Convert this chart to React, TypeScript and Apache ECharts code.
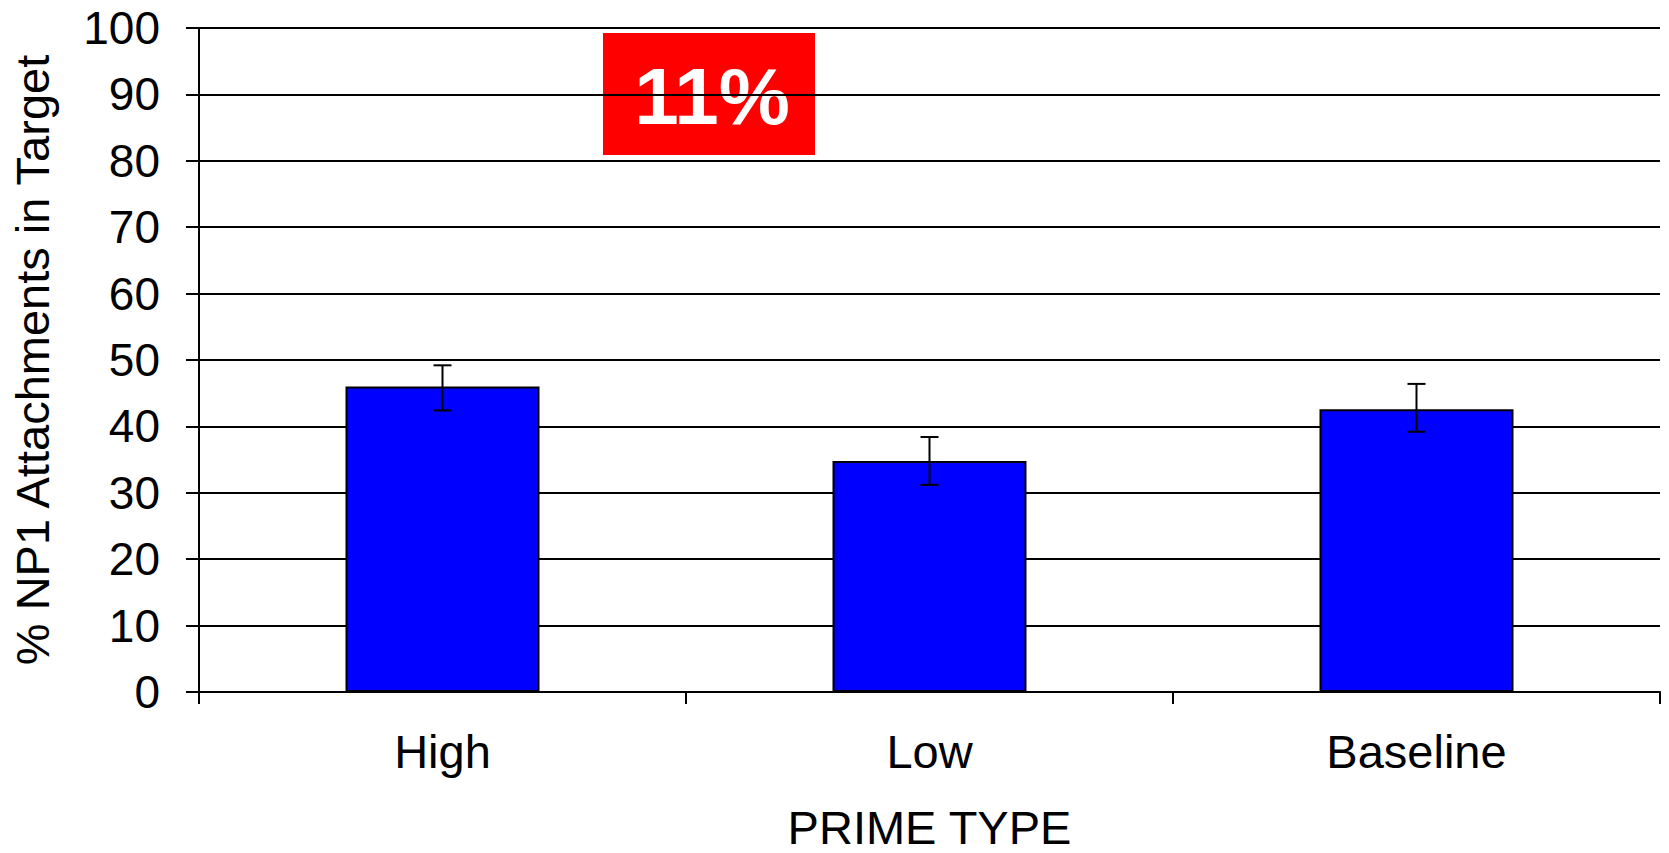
import { useEffect, useRef } from 'react';
import * as echarts from 'echarts';

// data
const categories = ['High', 'Low', 'Baseline'];
const means = [46.0, 34.8, 42.6];
const errLow = [42.4, 31.2, 39.2];
const errHigh = [49.2, 38.4, 46.4];
const yTicks = [0, 10, 20, 30, 40, 50, 60, 70, 80, 90, 100];
const badgeText = '11%';

const FONT = "'Liberation Sans', Arial, sans-serif";

export default function App() {
  const chartRef = useRef<HTMLDivElement>(null);

  useEffect(() => {
    if (!chartRef.current) return;
    const chart = echarts.init(chartRef.current, null, { renderer: 'svg' });

    const errData = categories.map((_, i) => [i, errLow[i], errHigh[i]]);

    const option = {
      animation: false,
      backgroundColor: '#fff',
      grid: {
        left: 199,
        right: 9,
        top: 28,
        bottom: 161,
        containLabel: false,
        outerBoundsMode: 'none'
      },
      xAxis: {
        type: 'category',
        data: categories,
        name: 'PRIME TYPE',
        nameLocation: 'middle',
        nameGap: 112,
        nameTextStyle: { color: '#000', fontSize: 47, fontFamily: FONT },
        axisLine: { show: true, lineStyle: { color: '#000', width: 2 } },
        axisTick: { show: true, length: 12, lineStyle: { color: '#000', width: 2 } },
        axisLabel: { color: '#000', fontSize: 47, fontFamily: FONT, margin: 36 },
        splitLine: { show: false }
      },
      yAxis: {
        type: 'value',
        min: yTicks[0],
        max: yTicks[yTicks.length - 1],
        interval: 10,
        name: '% NP1 Attachments in Target',
        nameLocation: 'middle',
        nameGap: 143,
        nameTextStyle: { color: '#000', fontSize: 47, fontFamily: FONT },
        axisLine: { show: true, lineStyle: { color: '#000', width: 2 } },
        axisTick: { show: true, length: 13, lineStyle: { color: '#000', width: 2 } },
        axisLabel: { color: '#000', fontSize: 46, fontFamily: FONT, margin: 39 },
        splitLine: { show: true, lineStyle: { color: '#000', width: 2 } }
      },
      series: [
        {
          type: 'bar',
          data: means,
          barWidth: 194,
          itemStyle: { color: '#0000FF', borderColor: '#000', borderWidth: 2 }
        },
        {
          type: 'custom',
          data: errData,
          encode: { x: 0, y: [1, 2] },
          z: 10,
          renderItem: (params: any, api: any) => {
            const x = api.value(0);
            const lo = api.coord([x, api.value(1)]);
            const hi = api.coord([x, api.value(2)]);
            const half = 9;
            const style = { stroke: '#000', lineWidth: 2 };
            return {
              type: 'group',
              children: [
                { type: 'line', shape: { x1: hi[0], y1: hi[1], x2: lo[0], y2: lo[1] }, style },
                { type: 'line', shape: { x1: hi[0] - half, y1: hi[1], x2: hi[0] + half, y2: hi[1] }, style },
                { type: 'line', shape: { x1: lo[0] - half, y1: lo[1], x2: lo[0] + half, y2: lo[1] }, style }
              ]
            };
          }
        }
      ],
      graphic: [
        {
          type: 'group',
          left: 603,
          top: 33,
          z: 100,
          children: [
            { type: 'rect', shape: { x: 0, y: 0, width: 212, height: 122 }, style: { fill: '#FF0000' } },
            {
              type: 'text',
              x: 109,
              y: 63,
              style: {
                text: badgeText,
                fill: '#fff',
                font: `bold 80px ${FONT}`,
                align: 'center',
                verticalAlign: 'middle'
              }
            }
          ]
        }
      ]
    };

    chart.setOption(option as any);

    const handleResize = () => chart.resize();
    window.addEventListener('resize', handleResize);
    return () => {
      window.removeEventListener('resize', handleResize);
      chart.dispose();
    };
  }, []);

  return (
    <div
      ref={chartRef}
      style={{ position: 'fixed', left: 0, top: 0, width: 1669, height: 853, background: '#fff' }}
    />
  );
}
